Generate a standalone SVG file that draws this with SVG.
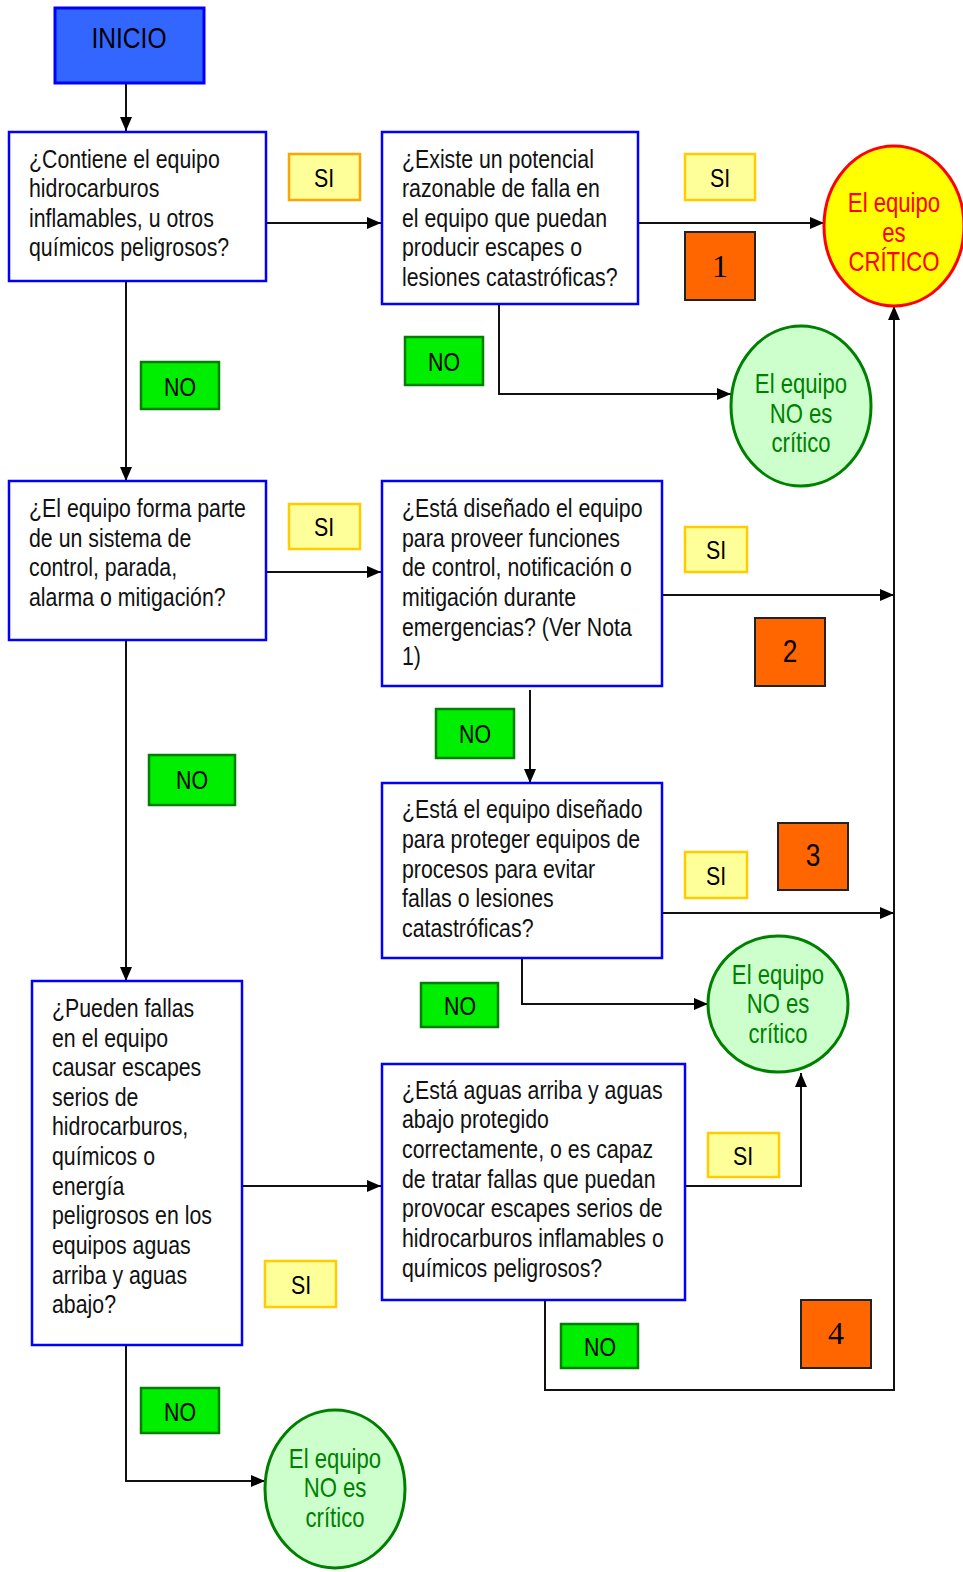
<svg xmlns="http://www.w3.org/2000/svg" width="963" height="1572" viewBox="0 0 963 1572">
<defs>
<marker id="ah" viewBox="0 0 14 12" refX="14" refY="6" markerWidth="14" markerHeight="12" markerUnits="userSpaceOnUse" orient="auto">
<path d="M0,0 L14,6 L0,12 Z" fill="#000"/>
</marker>
<style>
.q{fill:#fff;stroke:#0000FF;stroke-width:2.5}
.t{font-family:"Liberation Sans",Arial,sans-serif;font-size:26px;fill:#111}
.si{fill:#FFFF99;stroke:#FFCC00;stroke-width:2.5}
.no{fill:#00EE00;stroke:#008000;stroke-width:2.5}
.lb{font-family:"Liberation Sans",Arial,sans-serif;font-size:26px;fill:#000;text-anchor:middle}
.num{fill:#FF6600;stroke:#222;stroke-width:2}
.nt{font-size:32px;fill:#000;text-anchor:middle}
.nc{fill:#CCFFCC;stroke:#008000;stroke-width:3}
.nct{font-family:"Liberation Sans",Arial,sans-serif;font-size:27px;fill:#008000;text-anchor:middle}
.c{fill:none;stroke:#111;stroke-width:2;marker-end:url(#ah)}
</style>
</defs>
<rect width="963" height="1572" fill="#fff"/>

<g id="connectors">
<path class="c" d="M126,83 V131"/>
<path class="c" d="M266,223 H381"/>
<path class="c" d="M638,223 H824"/>
<path class="c" d="M499,304 V394 H731"/>
<path class="c" d="M126,281 V481"/>
<path class="c" d="M266,572 H381"/>
<path class="c" d="M662,595 H894"/>
<path class="c" d="M530,690 V783"/>
<path class="c" d="M662,913 H894"/>
<path class="c" d="M522,958 V1004 H708"/>
<path class="c" d="M126,640 V981"/>
<path class="c" d="M242,1186 H381"/>
<path class="c" d="M685,1186 H801 V1073"/>
<path class="c" d="M545,1300 V1390 H894 V306"/>
<path class="c" d="M126,1345 V1481 H265"/>
</g>

<g id="inicio">
<rect x="55" y="8" width="149" height="75" fill="#3366FF" stroke="#0000FF" stroke-width="3"/>
<g transform="translate(129,0) scale(0.82,1)"><text class="lb" x="0" y="48" style="font-size:30px">INICIO</text></g>
</g>

<g id="q1">
<rect class="q" x="9" y="132" width="257" height="149"/>
<g transform="translate(29,0) scale(0.82,1)"><text class="t"><tspan x="0" y="168">¿Contiene el equipo</tspan><tspan x="0" y="197">hidrocarburos</tspan><tspan x="0" y="227">inflamables, u otros</tspan><tspan x="0" y="256">químicos peligrosos?</tspan></text></g>
</g>

<g id="q2">
<rect class="q" x="382" y="132" width="256" height="172"/>
<g transform="translate(402,0) scale(0.82,1)"><text class="t"><tspan x="0" y="168">¿Existe un potencial</tspan><tspan x="0" y="197">razonable de falla en</tspan><tspan x="0" y="227">el equipo que puedan</tspan><tspan x="0" y="256">producir escapes o</tspan><tspan x="0" y="286">lesiones catastróficas?</tspan></text></g>
</g>

<g id="critico">
<ellipse cx="894" cy="226" rx="70" ry="80" fill="#FFFF00" stroke="#FF0000" stroke-width="3"/>
<g transform="translate(894,0) scale(0.82,1)"><text class="nct" style="fill:#FF0000"><tspan x="0" y="212">El equipo</tspan><tspan x="0" y="242">es</tspan><tspan x="0" y="271">CRÍTICO</tspan></text></g>
</g>

<g id="nc1">
<ellipse class="nc" cx="801" cy="406" rx="70" ry="80"/>
<g transform="translate(801,0) scale(0.82,1)"><text class="nct"><tspan x="0" y="393">El equipo</tspan><tspan x="0" y="423">NO es</tspan><tspan x="0" y="452">crítico</tspan></text></g>
</g>

<g id="q3">
<rect class="q" x="9" y="481" width="257" height="159"/>
<g transform="translate(29,0) scale(0.82,1)"><text class="t"><tspan x="0" y="517">¿El equipo forma parte</tspan><tspan x="0" y="547">de un sistema de</tspan><tspan x="0" y="576">control, parada,</tspan><tspan x="0" y="606">alarma o mitigación?</tspan></text></g>
</g>

<g id="q4">
<rect class="q" x="382" y="481" width="280" height="205"/>
<g transform="translate(402,0) scale(0.82,1)"><text class="t"><tspan x="0" y="517">¿Está diseñado el equipo</tspan><tspan x="0" y="547">para proveer funciones</tspan><tspan x="0" y="576">de control, notificación o</tspan><tspan x="0" y="606">mitigación durante</tspan><tspan x="0" y="636">emergencias? (Ver Nota</tspan><tspan x="0" y="665">1)</tspan></text></g>
</g>

<g id="q5">
<rect class="q" x="382" y="783" width="280" height="175"/>
<g transform="translate(402,0) scale(0.82,1)"><text class="t"><tspan x="0" y="818">¿Está el equipo diseñado</tspan><tspan x="0" y="848">para proteger equipos de</tspan><tspan x="0" y="878">procesos para evitar</tspan><tspan x="0" y="907">fallas o lesiones</tspan><tspan x="0" y="937">catastróficas?</tspan></text></g>
</g>

<g id="nc2">
<ellipse class="nc" cx="778" cy="1004" rx="70" ry="68"/>
<g transform="translate(778,0) scale(0.82,1)"><text class="nct"><tspan x="0" y="984">El equipo</tspan><tspan x="0" y="1013">NO es</tspan><tspan x="0" y="1043">crítico</tspan></text></g>
</g>

<g id="q6">
<rect class="q" x="32" y="981" width="210" height="364"/>
<g transform="translate(52,0) scale(0.82,1)"><text class="t"><tspan x="0" y="1017">¿Pueden fallas</tspan><tspan x="0" y="1047">en el equipo</tspan><tspan x="0" y="1076">causar escapes</tspan><tspan x="0" y="1106">serios de</tspan><tspan x="0" y="1135">hidrocarburos,</tspan><tspan x="0" y="1165">químicos o</tspan><tspan x="0" y="1195">energía</tspan><tspan x="0" y="1224">peligrosos en los</tspan><tspan x="0" y="1254">equipos aguas</tspan><tspan x="0" y="1284">arriba y aguas</tspan><tspan x="0" y="1313">abajo?</tspan></text></g>
</g>

<g id="q7">
<rect class="q" x="382" y="1064" width="303" height="236"/>
<g transform="translate(402,0) scale(0.82,1)"><text class="t"><tspan x="0" y="1099">¿Está aguas arriba y aguas</tspan><tspan x="0" y="1128">abajo protegido</tspan><tspan x="0" y="1158">correctamente, o es capaz</tspan><tspan x="0" y="1188">de tratar fallas que puedan</tspan><tspan x="0" y="1217">provocar escapes serios de</tspan><tspan x="0" y="1247">hidrocarburos inflamables o</tspan><tspan x="0" y="1277">químicos peligrosos?</tspan></text></g>
</g>

<g id="nc3">
<ellipse class="nc" cx="335" cy="1489" rx="70" ry="79"/>
<g transform="translate(335,0) scale(0.82,1)"><text class="nct"><tspan x="0" y="1468">El equipo</tspan><tspan x="0" y="1497">NO es</tspan><tspan x="0" y="1527">crítico</tspan></text></g>
</g>

<g id="labels">
<rect class="si" x="289" y="154" width="71" height="46" style="stroke:#FFA500"/><g transform="translate(324,0) scale(0.82,1)"><text class="lb" x="0" y="187">SI</text></g>
<rect class="si" x="685" y="154" width="70" height="46"/><g transform="translate(720,0) scale(0.82,1)"><text class="lb" x="0" y="187">SI</text></g>
<rect class="no" x="405" y="337" width="78" height="48"/><g transform="translate(444,0) scale(0.82,1)"><text class="lb" x="0" y="371">NO</text></g>
<rect class="no" x="141" y="362" width="78" height="47"/><g transform="translate(180,0) scale(0.82,1)"><text class="lb" x="0" y="396">NO</text></g>
<rect class="si" x="289" y="504" width="71" height="45"/><g transform="translate(324,0) scale(0.82,1)"><text class="lb" x="0" y="536">SI</text></g>
<rect class="si" x="685" y="527" width="62" height="45"/><g transform="translate(716,0) scale(0.82,1)"><text class="lb" x="0" y="559">SI</text></g>
<rect class="no" x="436" y="709" width="78" height="49"/><g transform="translate(475,0) scale(0.82,1)"><text class="lb" x="0" y="743">NO</text></g>
<rect class="no" x="149" y="755" width="86" height="50"/><g transform="translate(192,0) scale(0.82,1)"><text class="lb" x="0" y="789">NO</text></g>
<rect class="si" x="685" y="852" width="62" height="46"/><g transform="translate(716,0) scale(0.82,1)"><text class="lb" x="0" y="885">SI</text></g>
<rect class="no" x="421" y="983" width="77" height="44"/><g transform="translate(460,0) scale(0.82,1)"><text class="lb" x="0" y="1015">NO</text></g>
<rect class="si" x="708" y="1133" width="71" height="44"/><g transform="translate(743,0) scale(0.82,1)"><text class="lb" x="0" y="1165">SI</text></g>
<rect class="si" x="265" y="1261" width="71" height="46"/><g transform="translate(301,0) scale(0.82,1)"><text class="lb" x="0" y="1294">SI</text></g>
<rect class="no" x="561" y="1324" width="77" height="44"/><g transform="translate(600,0) scale(0.82,1)"><text class="lb" x="0" y="1356">NO</text></g>
<rect class="no" x="141" y="1388" width="78" height="45"/><g transform="translate(180,0) scale(0.82,1)"><text class="lb" x="0" y="1421">NO</text></g>
</g>

<g id="nums">
<rect class="num" x="685" y="232" width="70" height="68"/><text class="nt" x="720" y="277" style="font-family:'Liberation Serif',serif">1</text>
<rect class="num" x="755" y="618" width="70" height="68"/><g transform="translate(790,0) scale(0.82,1)"><text class="nt" x="0" y="662" style="font-family:'Liberation Sans',sans-serif">2</text></g>
<rect class="num" x="778" y="823" width="70" height="67"/><g transform="translate(813,0) scale(0.82,1)"><text class="nt" x="0" y="866" style="font-family:'Liberation Sans',sans-serif">3</text></g>
<rect class="num" x="801" y="1300" width="70" height="68"/><text class="nt" x="836" y="1344" style="font-family:'Liberation Serif',serif">4</text>
</g>
</svg>
